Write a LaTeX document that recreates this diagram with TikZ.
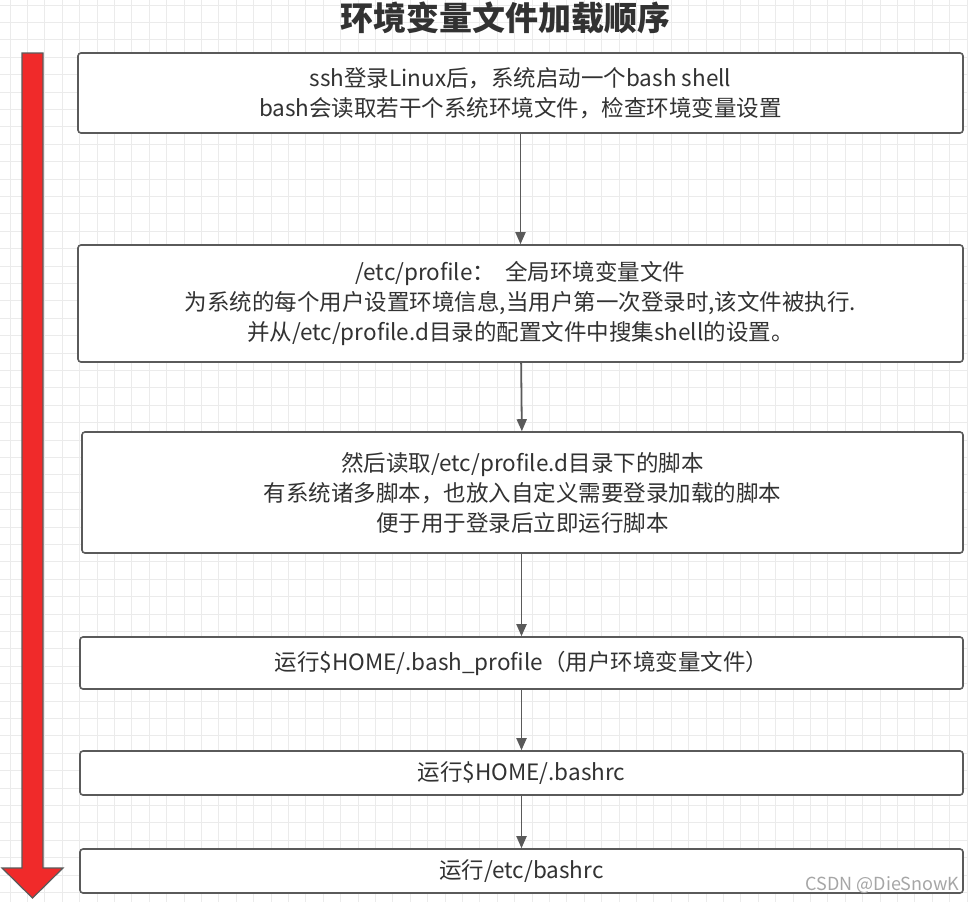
\documentclass[tikz,border=0pt]{standalone}
\usepackage{fontspec}
\setmainfont{Noto Sans CJK SC}
\usepackage{xcolor}
\usetikzlibrary{positioning,arrows.meta}

\definecolor{arrowred}{RGB}{240,42,42}
\definecolor{boxline}{RGB}{90,90,90}
\definecolor{txt}{RGB}{50,50,50}

\begin{document}
\begin{tikzpicture}[x=1pt,y=-1pt,
	box/.style={draw=boxline,line width=1.6pt,rounded corners=3pt,fill=white,align=center,text=txt,inner sep=0pt,font=\fontsize{22.5}{30}\selectfont},
	flow/.style={draw=boxline,line width=1.8pt,-{Triangle[length=12pt,width=10pt]}},
	gridline/.style={draw=black!8,line width=0.8pt}]
	
	\useasboundingbox (0,0) rectangle (968,902);
	\fill[white] (0,0) rectangle (968,902);
	\foreach \x in {10,27.4,...,968} \draw[gridline] (\x,0) -- (\x,902);
	\foreach \y in {5,22.4,...,902} \draw[gridline] (0,\y) -- (968,\y);
	
	% title
	\node[text=txt,font=\fontsize{33}{33}\selectfont\bfseries] (title) at (505,18) {环境变量文件加载顺序};
	
	% red arrow on the left
	\draw[fill=arrowred,draw=boxline,line width=1.2pt,line join=miter] (22,53) -- (43,53) -- (43,868) -- (63,868) -- (32.5,898) -- (2,868) -- (22,868) -- cycle;
	
	\node[box,minimum width=885pt,minimum height=80pt] (login) at (520.5,93) {ssh登录Linux后，系统启动一个bash shell\\bash会读取若干个系统环境文件，检查环境变量设置};
	\node[box,minimum width=885pt,minimum height=117pt] (profile) at (520.5,303.5) {/etc/profile：\ \ 全局环境变量文件\\为系统的每个用户设置环境信息,当用户第一次登录时,该文件被执行.\\并从/etc/profile.d目录的配置文件中搜集shell的设置。};
	\node[box,minimum width=881pt,minimum height=121pt] (profiled) at (522.5,492.5) {然后读取/etc/profile.d目录下的脚本\\有系统诸多脚本，也放入自定义需要登录加载的脚本\\便于用于登录后立即运行脚本};
	\node[box,minimum width=883pt,minimum height=52pt] (bashprofile) at (521.5,663) {运行\$HOME/.bash\_profile（用户环境变量文件）};
	\node[box,minimum width=883pt,minimum height=44pt] (bashrc) at (521.5,773) {运行\$HOME/.bashrc};
	\node[box,minimum width=883pt,minimum height=44pt] (etcbashrc) at (521.5,871) {运行/etc/bashrc};
	
	\draw[flow] (login) -- (profile);
	\draw[flow] (profile) -- (profiled);
	\draw[flow] (profiled.south -| bashprofile) -- (bashprofile);
	\draw[flow] (bashprofile) -- (bashrc);
	\draw[flow] (bashrc) -- (etcbashrc);
	
	\node[anchor=east,text=black!35,font=\fontsize{18}{18}\selectfont] (mark) at (963,885) {CSDN @DieSnowK};
	
\end{tikzpicture}
\end{document}
